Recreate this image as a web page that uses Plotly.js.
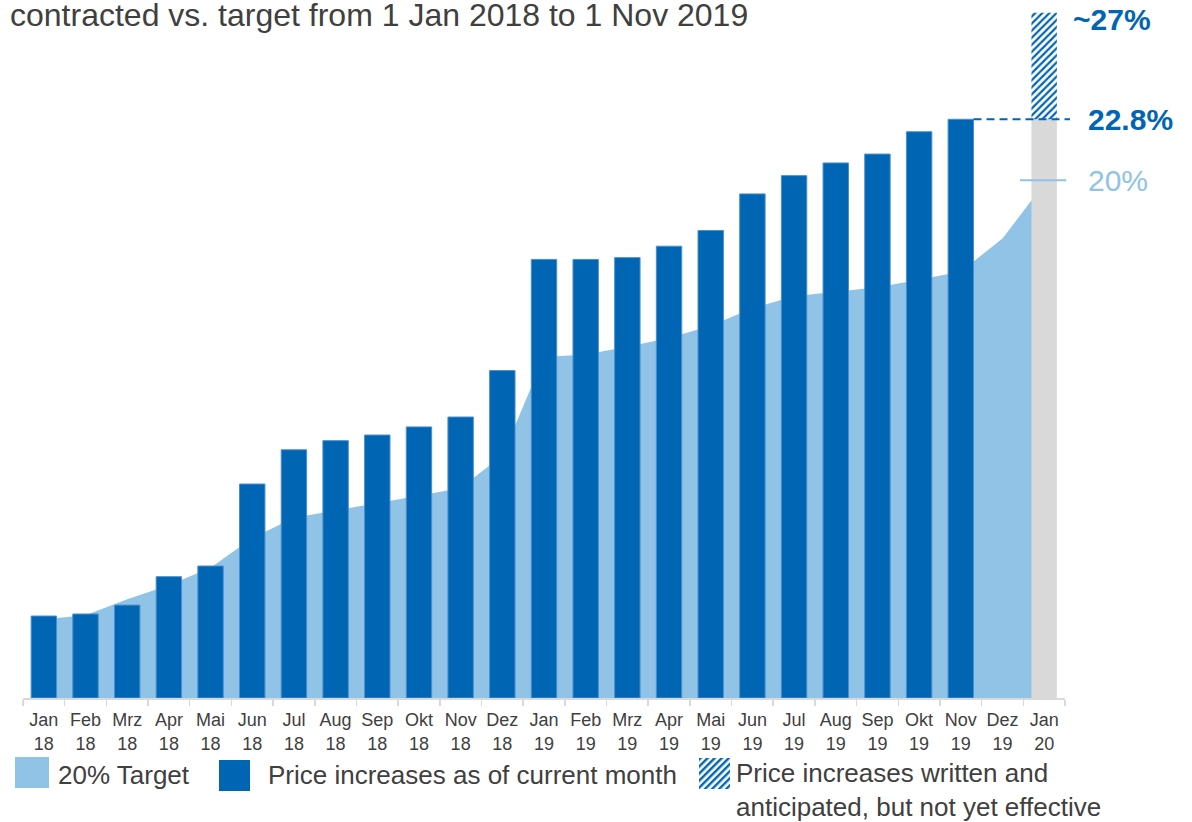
<!DOCTYPE html>
<html>
<head>
<meta charset="utf-8">
<script src="https://cdn.plot.ly/plotly-3.0.1.min.js"></script>
<style>
  html, body { margin: 0; padding: 0; background: #ffffff; }
  #chart { width: 1192px; height: 822px; }
</style>
</head>
<body>
<div id="chart"></div>
<script>
// ---- data ----
const months = ['Jan','Feb','Mrz','Apr','Mai','Jun','Jul','Aug','Sep','Okt','Nov','Dez',
                'Jan','Feb','Mrz','Apr','Mai','Jun','Jul','Aug','Sep','Okt','Nov','Dez','Jan'];
const years  = ['18','18','18','18','18','18','18','18','18','18','18','18',
                '19','19','19','19','19','19','19','19','19','19','19','19','20'];
// 20% target path (percent), Jan 18 .. Jan 20
const targetValues = [3.10, 3.26, 3.89, 4.44, 5.13, 6.30, 7.10, 7.38, 7.68, 7.97, 8.27, 9.55,
                      13.43, 13.53, 13.84, 14.18, 14.67, 15.36, 15.83, 15.99, 16.18, 16.48, 16.80, 18.10, 20.26];
// price increases as of current month (percent), Jan 18 .. Nov 19
const currentValues = [3.23, 3.31, 3.66, 4.78, 5.20, 8.43, 9.78, 10.14, 10.36, 10.68, 11.07, 12.90,
                       17.28, 17.28, 17.35, 17.80, 18.42, 19.86, 20.58, 21.08, 21.43, 22.31, 22.80];
// written and anticipated, but not yet effective (total level)
const anticipatedTotal = 27;
const targetMarkerValue = 20.4;
const labelCurrent = '22.8%';
const labelAnticipated = '~27%';
const labelTarget = '20%';
const legendLabels = ['20% Target', 'Price increases as of current month',
                      'Price increases written and<br>anticipated, but not yet effective'];
const titleText = 'contracted vs. target from 1 Jan 2018 to 1 Nov 2019';

// ---- styles ----
const DARK = '#0065b2';
const LIGHT = '#90c3e5';
const GREY = '#d9d9d9';
const TEXT = '#404040';
const FONT = 'Liberation Sans, Arial, Helvetica, sans-serif';

const categories = months.map((m, i) => m + '<br>' + years[i]);
const lastCurrent = currentValues[currentValues.length - 1];
const BARW = 0.61;
const YMAX = 27.5;

// plot-area geometry (pixels) for legend placement helpers
const W = 1192, H = 822;
const M = {l: 23, r: 127, t: 0, b: 124};
const plotW = W - M.l - M.r, plotH = H - M.t - M.b;
const px2x = px => (px - M.l) / plotW;
const py2y = py => (H - M.b - py) / plotH;
const idx2x = i => (i + 0.5) / categories.length;

const traces = [
  { // target area (base subplot, drawn beneath the bars)
    type: 'scatter', mode: 'lines', x: categories, y: targetValues,
    xaxis: 'x', yaxis: 'y',
    fill: 'tozeroy', fillcolor: LIGHT, line: {width: 0, color: LIGHT},
    hoverinfo: 'skip', showlegend: false
  },
  { // grey Jan 20 bar
    type: 'bar', x: [categories[categories.length - 1]], y: [lastCurrent],
    xaxis: 'x2', yaxis: 'y2',
    width: BARW, marker: {color: GREY, line: {width: 0}}, showlegend: false
  },
  { // current price increases
    type: 'bar', x: categories.slice(0, currentValues.length), y: currentValues,
    xaxis: 'x2', yaxis: 'y2',
    width: BARW, marker: {color: DARK, line: {width: 1, color: '#4a90cf'}}, showlegend: false
  },
  { // anticipated (hatched)
    type: 'bar', x: [categories[categories.length - 1]], y: [anticipatedTotal - lastCurrent],
    base: [lastCurrent], width: BARW,
    xaxis: 'x2', yaxis: 'y2',
    marker: {color: '#ffffff', line: {width: 0},
             pattern: {shape: '/', fgcolor: DARK, bgcolor: '#ffffff', size: 5, solidity: 0.45, fillmode: 'replace'}},
    showlegend: false
  }
];

const hatchSvg = '<svg xmlns="http://www.w3.org/2000/svg" width="31" height="31" viewBox="0 0 31 31">' +
  '<defs><pattern id="p" width="5" height="5" patternUnits="userSpaceOnUse" patternTransform="rotate(45)">' +
  '<rect width="5" height="5" fill="#ffffff"/><rect width="2.4" height="5" fill="' + DARK + '"/></pattern></defs>' +
  '<rect width="31" height="31" fill="url(#p)"/></svg>';

const xCommon = {
  type: 'category', categoryorder: 'array', categoryarray: categories,
  range: [-0.5, categories.length - 0.5], fixedrange: true
};

const layout = {
  width: W, height: H,
  margin: M,
  paper_bgcolor: '#ffffff', plot_bgcolor: 'rgba(0,0,0,0)',
  barmode: 'overlay',
  showlegend: false,
  font: {family: FONT, color: TEXT},
  title: {
    text: titleText, font: {family: FONT, size: 32, color: TEXT},
    xref: 'container', yref: 'container', x: 10 / W, xanchor: 'left',
    y: 1 - 15 / H, yanchor: 'middle', pad: {t: 0, b: 0, l: 0, r: 0}
  },
  xaxis: Object.assign({}, xCommon, {
    tickson: 'boundaries', ticks: 'outside', ticklen: 6, tickwidth: 1.5, tickcolor: GREY,
    showline: true, linecolor: GREY, linewidth: 1.5,
    showgrid: false, zeroline: false,
    ticklabelstandoff: 5,
    tickfont: {family: FONT, size: 18, color: TEXT}
  }),
  xaxis2: Object.assign({}, xCommon, {
    overlaying: 'x', visible: false, showgrid: false, zeroline: false
  }),
  yaxis: {range: [0, YMAX], visible: false, showgrid: false, zeroline: false, fixedrange: true},
  yaxis2: {range: [0, YMAX], overlaying: 'y', visible: false, showgrid: false, zeroline: false, fixedrange: true},
  shapes: [
    { // dashed 22.8% line
      type: 'line', xref: 'paper', yref: 'y',
      x0: idx2x(currentValues.length - 1 + BARW / 2), x1: idx2x(24.62),
      y0: lastCurrent, y1: lastCurrent,
      line: {color: DARK, width: 2, dash: '8px,5px'}
    },
    { // 20% marker
      type: 'line', xref: 'paper', yref: 'y',
      x0: idx2x(23.42), x1: idx2x(24.53),
      y0: targetMarkerValue, y1: targetMarkerValue,
      line: {color: LIGHT, width: 2}
    },
    { // legend swatch light
      type: 'rect', xref: 'paper', yref: 'paper',
      x0: px2x(15), x1: px2x(49), y0: py2y(757), y1: py2y(788),
      fillcolor: LIGHT, line: {width: 0}
    },
    { // legend swatch dark
      type: 'rect', xref: 'paper', yref: 'paper',
      x0: px2x(219), x1: px2x(250), y0: py2y(760), y1: py2y(791),
      fillcolor: DARK, line: {width: 0}
    }
  ],
  images: [{
    source: 'data:image/svg+xml;charset=utf-8,' + encodeURIComponent(hatchSvg),
    xref: 'paper', yref: 'paper', x: px2x(699), y: py2y(758),
    sizex: 31 / plotW, sizey: 31 / plotH, xanchor: 'left', yanchor: 'top',
    sizing: 'stretch', layer: 'above'
  }],
  annotations: [
    {text: '<b>' + labelAnticipated + '</b>', xref: 'paper', yref: 'y', x: px2x(1071), y: anticipatedTotal,
     yshift: -7, xanchor: 'left', yanchor: 'middle', showarrow: false,
     font: {family: FONT, size: 30, color: DARK}},
    {text: '<b>' + labelCurrent + '</b>', xref: 'paper', yref: 'y', x: px2x(1086), y: lastCurrent,
     xanchor: 'left', yanchor: 'middle', showarrow: false,
     font: {family: FONT, size: 30, color: DARK}},
    {text: labelTarget, xref: 'paper', yref: 'y', x: px2x(1086), y: targetMarkerValue,
     xanchor: 'left', yanchor: 'middle', showarrow: false,
     font: {family: FONT, size: 30, color: LIGHT}},
    {text: legendLabels[0], xref: 'paper', yref: 'paper', x: px2x(56), y: py2y(775),
     xanchor: 'left', yanchor: 'middle', showarrow: false,
     font: {family: FONT, size: 26, color: TEXT}},
    {text: legendLabels[1], xref: 'paper', yref: 'paper', x: px2x(266), y: py2y(775),
     xanchor: 'left', yanchor: 'middle', showarrow: false,
     font: {family: FONT, size: 26, color: TEXT}},
    {text: legendLabels[2], xref: 'paper', yref: 'paper', x: px2x(734), y: py2y(790),
     xanchor: 'left', yanchor: 'middle', align: 'left', showarrow: false,
     font: {family: FONT, size: 26, color: TEXT}}
  ]
};

Plotly.newPlot('chart', traces, layout, {staticPlot: true, displayModeBar: false});
</script>
</body>
</html>
